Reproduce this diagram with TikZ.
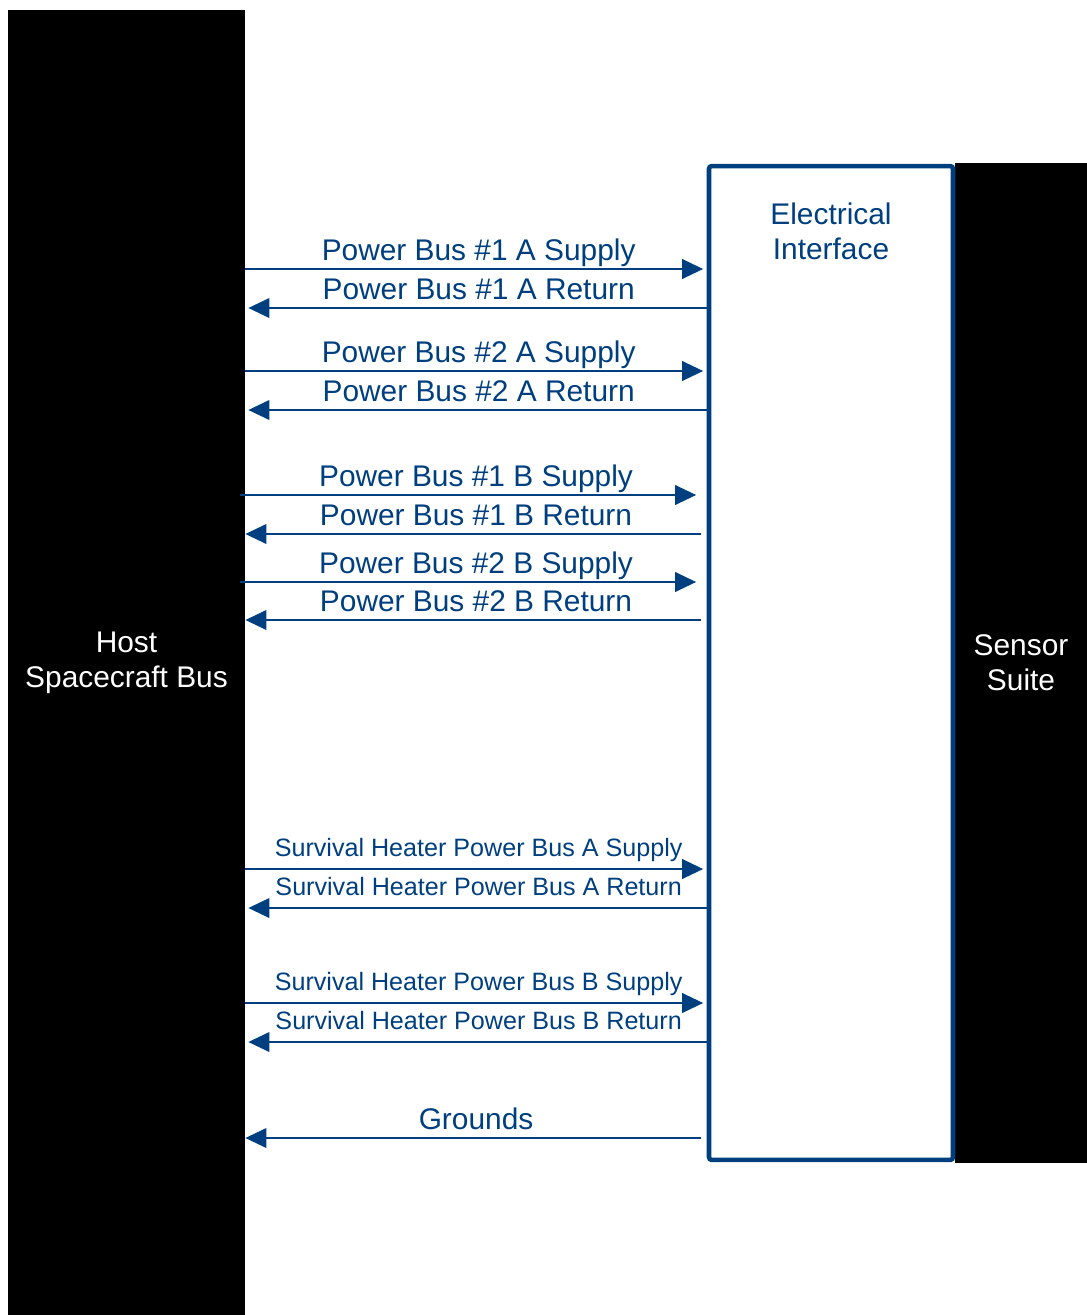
\documentclass[tikz,border=0pt]{standalone}
\usepackage{fontspec}
\setmainfont{Liberation Sans}
\usetikzlibrary{arrows.meta, positioning}
\definecolor{busblue}{RGB}{0,63,127}
\tikzset{block/.style={fill=black, text=white, align=center,
 font=\fontsize{17}{20}\selectfont, inner sep=0pt},
 iface/.style={draw=busblue, line width=2.6pt, fill=white,
 rounded corners=1.5pt, inner sep=0pt},
 wire/.style={busblue, line width=1.6pt, -{Triangle[length=12pt, width=11pt]}},
 wirelbl/.style={text=busblue, font=\fontsize{17}{20}\selectfont,
 anchor=base, yshift=5pt},
 heatlbl/.style={wirelbl, font=\fontsize{14.3}{17}\selectfont, yshift=2pt}
}

\begin{document}
\begin{tikzpicture}[x=0.02cm, y=-0.02cm]

\useasboundingbox (0,0) rectangle (1087,1315);

\node [block, minimum width=4.74cm, minimum height=26.1cm]
  (host) at (126.5,662.5) {Host\\Spacecraft Bus};
\node [block, minimum width=2.64cm, minimum height=20cm]
  (sensor) at (1021,663) {Sensor\\Suite};
\node [iface, minimum width=4.88cm, minimum height=19.88cm]
  (elec) at (831,663) {};
\node [text=busblue, font=\fontsize{17}{20}\selectfont, align=center]
  (elabel) at (831,231) {Electrical\\Interface};

% supplies, host to interface
\foreach \y/\txt/\lbl in
  {269/{Power Bus \#1 A Supply}/wirelbl, 371/{Power Bus \#2 A Supply}/wirelbl,
  869/{Survival Heater Power Bus A Supply}/heatlbl,
  1003/{Survival Heater Power Bus B Supply}/heatlbl}
\draw [wire, shorten >=2pt]
  (host.east |- 0,\y) -- (elec.west |- 0,\y) node [\lbl, midway, xshift=1.5pt] {\txt};

\foreach \y/\txt in
  {495/{Power Bus \#1 B Supply}, 582/{Power Bus \#2 B Supply}}
\draw [wire, shorten <=-3pt, shorten >=6pt]
  (host.east |- 0,\y) -- (elec.west |- 0,\y) node [wirelbl, midway] {\txt};

% returns, interface to host
\foreach \y/\txt/\lbl in
  {308/{Power Bus \#1 A Return}/wirelbl, 410/{Power Bus \#2 A Return}/wirelbl,
  908/{Survival Heater Power Bus A Return}/heatlbl,
  1042/{Survival Heater Power Bus B Return}/heatlbl}
\draw [wire, shorten >=1.7pt]
  (elec.west |- 0,\y) -- (host.east |- 0,\y) node [\lbl, midway, xshift=1.5pt] {\txt};

\foreach \y/\txt in
  {534/{Power Bus \#1 B Return}, 620/{Power Bus \#2 B Return}, 1138/Grounds}
\draw [wire, shorten <=3.4pt]
  (elec.west |- 0,\y) -- (host.east |- 0,\y) node [wirelbl, midway] {\txt};

\end{tikzpicture}
\end{document}
